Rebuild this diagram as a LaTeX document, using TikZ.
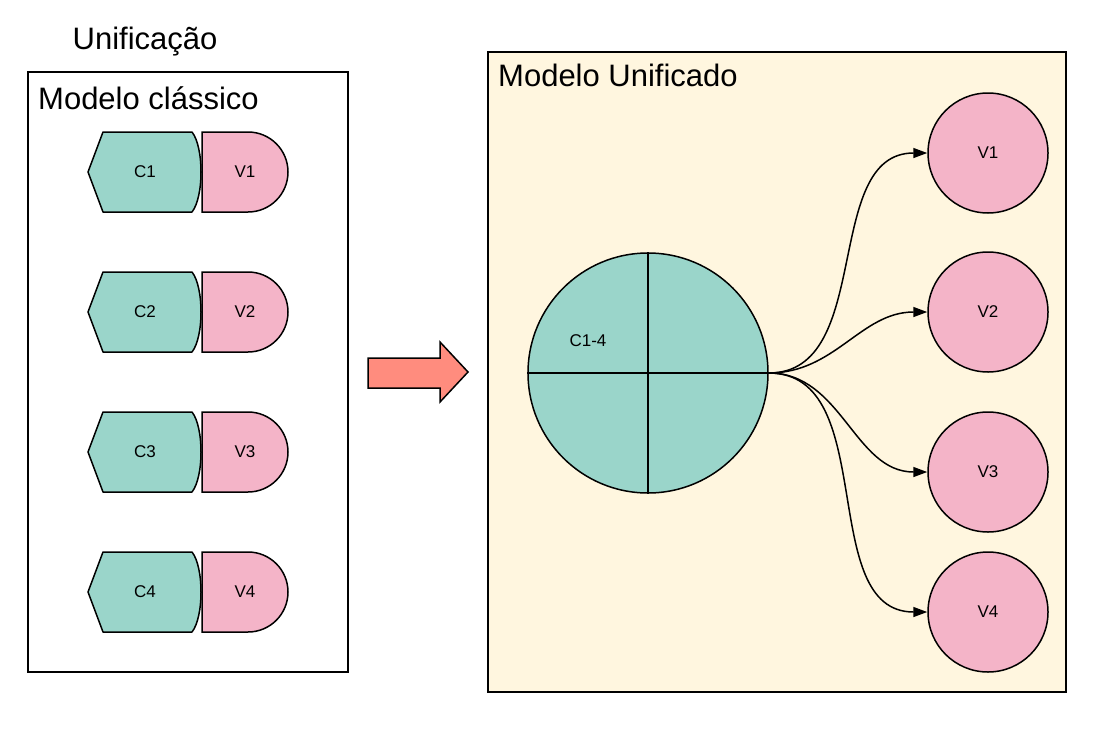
\documentclass[tikz,border=0pt]{standalone}
\usepackage{fontspec}
\setmainfont{Liberation Sans}
\usepackage{xcolor}
\usepackage{tikz}
\usetikzlibrary{arrows.meta,positioning}
\definecolor{teal}{HTML}{9AD5CA}
\definecolor{pink}{HTML}{F4B4C8}
\definecolor{salmon}{HTML}{FF8C7E}
\definecolor{cream}{HTML}{FFF6DF}
\tikzset{
  panel/.style={
    draw=black,line width=1.5pt,inner sep=0pt
  },
  title/.style={
    inner sep=0pt,font=\fontsize{31}{36}\selectfont
  },
  label/.style={
    inner sep=0pt,font=\fontsize{17}{20}\selectfont
  },
  bigcirc/.style={
    circle,draw=black,fill=teal,line width=1.5pt,
    minimum size=240pt,inner sep=0pt
  },
  vcirc/.style={
    circle,draw=black,fill=pink,line width=1.5pt,
    minimum size=120pt,inner sep=0pt,font=\fontsize{17}{20}\selectfont
  },
  link/.style={-{Triangle[length=14pt,width=10pt]},draw=black,line width=1.5pt},
  bigarrow/.style={draw=black,fill=salmon,line width=1.5pt,line join=miter},
  pics/cvpair/.style n args={2}{code={
    \draw[line width=1.5pt,fill=teal,line join=round]
      (-114,0) -- (-99,40) -- (-10,40) .. controls (2,25) and (2,-25) .. (-10,-40)
      -- (-99,-40) -- cycle;
    \draw[line width=1.5pt,fill=pink]
      (0,40) -- (46,40) arc[start angle=90,end angle=-90,radius=40] -- (0,-40) -- cycle;
    \node[label] (-c) at (-57,0) {#1};
    \node[label] (-v) at (43,0) {#2};
  }}
}

\begin{document}
\begin{tikzpicture}[x=1pt,y=1pt]
\useasboundingbox (0,0) rectangle (1097,-739);

% left: classic model
\node[title,anchor=base] (unif) at (145,-49) {Unificação};
\node[panel,minimum width=320pt,minimum height=600pt] (classic) at (188,-372) {};
\node[title,anchor=base west] (classictitle) at (38,-109) {Modelo clássico};

\pic (p1) at (202,-172) {cvpair={C1}{V1}};
\pic (p2) at (202,-312) {cvpair={C2}{V2}};
\pic (p3) at (202,-452) {cvpair={C3}{V3}};
\pic (p4) at (202,-592) {cvpair={C4}{V4}};

% transition
\draw[bigarrow] (368,-358) -- (440,-358) -- (440,-342) -- (468,-372)
  -- (440,-402) -- (440,-388) -- (368,-388) -- cycle;

% right: unified model
\node[panel,fill=cream,minimum width=578pt,minimum height=640pt] (unified) at (777,-372) {};
\node[title,anchor=base west] (unifiedtitle) at (498,-86) {Modelo Unificado};

\node[bigcirc] (c14) at (648,-373) {};
\draw[line width=1.5pt] (c14.north) -- (c14.south);
\draw[line width=1.5pt] (c14.west) -- (c14.east);
\node[label] (c14lbl) at (588,-341) {C1-4};

\node[vcirc] (v1) at (988,-153) {V1};
\node[vcirc] (v2) at (988,-312) {V2};
\node[vcirc] (v3) at (988,-472) {V3};
\node[vcirc] (v4) at (988,-612) {V4};

\draw[link] (c14.east) to[out=0,in=180] (v1.west);
\draw[link] (c14.east) to[out=0,in=180] (v2.west);
\draw[link] (c14.east) to[out=0,in=180] (v3.west);
\draw[link] (c14.east) to[out=0,in=180] (v4.west);
\end{tikzpicture}
\end{document}
